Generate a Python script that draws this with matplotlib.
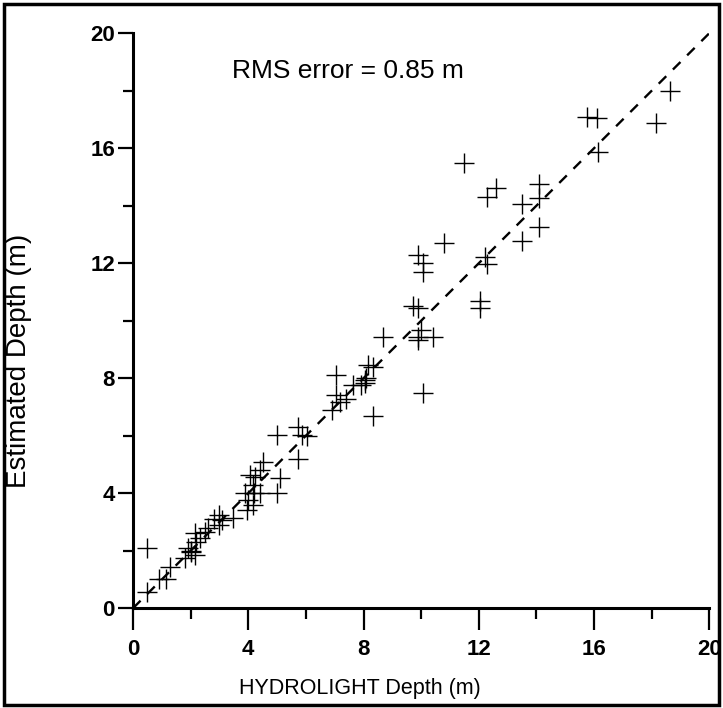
import matplotlib
matplotlib.use("Agg")
import matplotlib.pyplot as plt
from matplotlib.patches import Rectangle
from matplotlib.ticker import MultipleLocator

# --- Data (HYDROLIGHT depth vs estimated depth, m) ---
hydrolight_depth = [
    0.49, 0.49, 0.9, 1.15, 1.28, 1.8, 1.9, 2.0, 2.2, 2.0, 2.15, 2.15, 2.33, 2.5, 2.6,
    3.0, 3.0, 3.1, 3.47, 2.8, 3.96, 4.17, 4.0, 3.9, 4.2, 4.4, 4.17, 4.06, 4.23, 4.4,
    4.5, 5.0, 5.0, 5.1, 5.73, 5.87, 6.04, 5.73, 6.9, 7.05, 7.05, 7.19, 7.4, 7.64,
    7.9, 8.05, 8.1, 8.16, 8.33, 8.33, 8.68, 8.05, 9.72, 9.9, 9.9, 9.9, 10.0, 10.4,
    9.9, 10.07, 10.07, 10.07, 10.8, 11.5, 12.05, 12.05, 12.2, 12.3, 12.3, 12.6,
    13.5, 13.5, 14.1, 14.1, 14.1, 15.76, 16.1, 16.15, 18.16, 18.65,
]
estimated_depth = [
    0.56, 2.09, 1.0, 1.0, 1.43, 1.75, 2.1, 1.95, 2.3, 2.0, 1.85, 2.6, 2.43, 2.64, 2.8,
    2.9, 3.23, 3.06, 3.13, 3.1, 3.4, 3.58, 3.76, 4.0, 4.0, 4.0, 4.28, 4.63, 4.56, 4.8,
    5.1, 6.02, 4.0, 4.52, 6.3, 6.02, 6.0, 5.2, 6.9, 7.4, 8.1, 7.17, 7.27, 7.76,
    7.76, 7.93, 8.0, 8.45, 8.38, 6.7, 9.43, 7.83, 10.5, 10.45, 9.32, 9.43, 9.67, 9.43,
    12.28, 12.0, 11.7, 7.48, 12.7, 15.5, 10.7, 10.43, 12.2, 11.97, 14.3, 14.6,
    14.05, 12.77, 14.75, 14.26, 13.25, 17.08, 17.04, 15.86, 16.87, 17.98,
]
rms_text = "RMS error = 0.85 m"
axis_max = 20

plt.rcParams["font.family"] = ["Liberation Sans", "DejaVu Sans"]

fig = plt.figure(figsize=(7.23, 7.08), dpi=100)
ax = fig.add_axes([0.184, 0.141, 0.797, 0.812])

# 1:1 line
ax.plot([0, axis_max], [0, axis_max], color="black", lw=1.7, dashes=(4.5, 4))
ax.plot(hydrolight_depth, estimated_depth, ls="none", marker="+",
        ms=14, mew=1.0, color="black")

ax.set_xlim(0, axis_max)
ax.set_ylim(0, axis_max)
ax.xaxis.set_major_locator(MultipleLocator(4))
ax.yaxis.set_major_locator(MultipleLocator(4))
ax.xaxis.set_minor_locator(MultipleLocator(2))
ax.yaxis.set_minor_locator(MultipleLocator(2))
ax.tick_params(which="both", direction="out", width=1.6, labelsize=16)
ax.tick_params(axis="x", which="major", length=16, pad=6)
ax.tick_params(axis="x", which="minor", length=8)
ax.tick_params(axis="y", which="major", length=11, pad=2)
ax.tick_params(axis="y", which="minor", length=7)
for lbl in ax.get_xticklabels() + ax.get_yticklabels():
    lbl.set_fontweight("bold")
for side in ["top", "right"]:
    ax.spines[side].set_visible(False)
for side in ["left", "bottom"]:
    ax.spines[side].set_linewidth(2.2)

ax.set_xlabel("HYDROLIGHT Depth (m)", fontsize=15.5)
ax.set_ylabel("Estimated Depth (m)", fontsize=20)
ax.xaxis.set_label_coords(0.394, -0.122)
ax.yaxis.set_label_coords(-0.176, 0.431)
ax.text(3.45, 18.7, rms_text, fontsize=19, va="center", ha="left")

# outer frame round the whole figure
fig.patches.append(Rectangle((0.005, 0.004), 0.99, 0.99, transform=fig.transFigure,
                             fill=False, lw=2.5, color="black"))

fig.savefig("out.png", dpi=100)
